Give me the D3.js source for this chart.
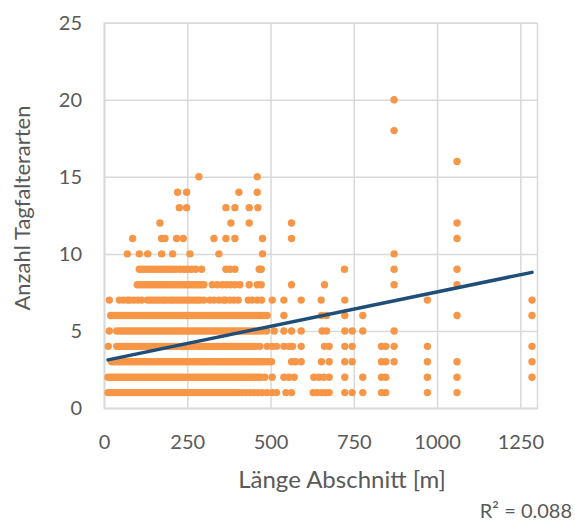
<!DOCTYPE html>
<html>
<head>
<meta charset="utf-8">
<script src="https://cdn.jsdelivr.net/npm/d3@7/dist/d3.min.js"></script>
<style>
  html, body { margin: 0; padding: 0; background: #ffffff; }
  svg { display: block; }
  text { font-family: Lato, "Open Sans", sans-serif; fill: #595959; }
</style>
</head>
<body>
<svg id="chart" width="575" height="522"></svg>
<script>
// Lengths (x, metres) of sections, grouped by number of butterfly species (y)
const len_sp1 = [12,19,27,36,43,51,60,68,75,84,92,99,108,116,123,132,140,147,156,164,171,180,188,195,204,212,219,228,236,243,252,260,267,276,284,291,300,308,315,324,332,339,348,356,363,372,380,387,396,404,415,427,438,450,462,475,490,505,518,546,563,628,640,653,665,676,723,745,777,833,846,971,1060];
const len_sp2 = [12,21,29,37,46,54,62,71,79,87,96,104,112,121,129,137,146,154,162,171,179,187,196,204,212,221,229,237,246,254,262,271,279,287,296,304,312,321,329,337,346,354,362,371,379,387,396,404,412,421,429,437,446,454,462,471,483,505,540,555,571,630,645,660,676,723,777,833,846,971,1060,1285];
const len_sp3 = [23,31,40,48,56,65,73,81,90,98,106,115,123,131,140,148,156,165,173,181,190,198,206,215,223,231,240,248,256,265,273,281,290,298,306,315,323,331,340,348,356,365,373,381,390,398,406,415,423,431,440,448,456,465,473,481,492,503,563,575,592,653,676,723,745,833,846,871,971,1060,1285];
const len_sp4 = [13,38,46,55,63,71,80,88,96,105,113,121,130,138,146,155,163,171,180,188,196,205,213,221,230,238,246,255,263,271,280,288,296,305,313,321,330,338,346,355,363,371,380,388,396,405,413,421,430,438,446,455,468,490,505,518,540,555,566,592,662,676,723,745,833,846,871,971,1285];
const len_sp5 = [16,38,47,55,63,72,80,88,97,105,113,122,130,138,147,155,163,172,180,188,197,205,213,222,230,238,247,255,263,272,280,288,297,305,313,322,330,338,347,355,363,372,380,388,397,405,413,422,430,438,447,455,463,474,488,511,540,563,592,655,668,723,745,777,871];
const len_sp6 = [20,28,37,45,53,62,70,78,87,95,103,112,120,128,137,145,153,162,170,178,187,195,203,212,220,228,237,245,253,262,270,278,287,295,303,312,320,328,337,345,353,362,370,378,387,395,403,412,420,428,437,445,453,462,470,480,490,540,653,668,723,777,1060,1285];
const len_sp7 = [16,46,58,70,78,90,102,113,130,138,147,155,163,172,180,188,197,205,213,222,230,238,247,255,263,272,280,288,300,318,330,345,358,365,378,390,403,433,445,460,473,505,540,592,652,723,971,1285];
const len_sp8 = [100,108,117,125,133,142,150,158,167,175,183,192,200,208,217,225,233,242,250,258,267,275,283,292,300,325,340,355,368,380,393,408,436,460,472,563,662,871,1060];
const len_sp9 = [106,115,125,135,145,155,165,175,185,195,205,215,228,240,250,262,275,293,366,378,393,466,472,722,871,1060];
const len_sp10 = [70,106,131,173,206,258,345,476,871];
const len_sp11 = [86,173,183,218,238,330,366,393,476,563,1060];
const len_sp12 = [168,381,436,563,1060];
const len_sp13 = [226,248,366,393,436,462];
const len_sp14 = [221,248,405,460];
const len_sp15 = [285,460];
const len_sp16 = [1060];
const len_sp18 = [871];
const len_sp20 = [871];

// Linear trendline
const trendSlope = 0.00446;
const trendIntercept = 3.07;
const rSquared = "R² = 0.088";

const xTicks = [0, 250, 500, 750, 1000, 1250];
const yTicks = [0, 5, 10, 15, 20, 25];
const xTitle = "Länge Abschnitt [m]";
const yTitle = "Anzahl Tagfalterarten";

const groups = [
  [1, len_sp1], [2, len_sp2], [3, len_sp3], [4, len_sp4], [5, len_sp5],
  [6, len_sp6], [7, len_sp7], [8, len_sp8], [9, len_sp9], [10, len_sp10],
  [11, len_sp11], [12, len_sp12], [13, len_sp13], [14, len_sp14], [15, len_sp15],
  [16, len_sp16], [18, len_sp18], [20, len_sp20]
];
const points = [];
groups.forEach(([sp, arr]) => arr.forEach(len => points.push({ x: len, y: sp })));

const svg = d3.select("#chart");
const mLeft = 104, mRight = 537, mTop = 22.7, mBottom = 408;

const x = d3.scaleLinear().domain([0, 1300]).range([mLeft, mRight]);
const y = d3.scaleLinear().domain([0, 25]).range([mBottom, mTop]);

const gridColor = "#D9D9D9";

// vertical gridlines + x axis
const gx = svg.append("g")
  .attr("transform", `translate(0,${mBottom})`)
  .call(d3.axisBottom(x).tickValues(xTicks).tickSize(-(mBottom - mTop)).tickFormat(d3.format("d")));
gx.select(".domain").attr("stroke", gridColor).attr("stroke-width", 1.5);
gx.selectAll(".tick line").attr("stroke", gridColor).attr("stroke-width", 1.5);
gx.selectAll(".tick text").attr("font-size", 20).attr("fill", "#595959")
  .attr("y", 41).attr("dy", 0).style("font-family", "Lato, sans-serif");

// horizontal gridlines + y axis
const gy = svg.append("g")
  .attr("transform", `translate(${mLeft},0)`)
  .call(d3.axisLeft(y).tickValues(yTicks).tickSize(-(mRight - mLeft)).tickFormat(d3.format("d")));
gy.select(".domain").attr("stroke", gridColor).attr("stroke-width", 1.5);
gy.selectAll(".tick line").attr("stroke", gridColor).attr("stroke-width", 1.5);
gy.selectAll(".tick text").attr("font-size", 20).attr("fill", "#595959")
  .attr("x", -22).style("font-family", "Lato, sans-serif");

// points
svg.append("g").selectAll("circle")
  .data(points)
  .join("circle")
  .attr("cx", d => x(d.x))
  .attr("cy", d => y(d.y))
  .attr("r", 3.7)
  .attr("fill", "#F79646");

// trendline
const xMin = d3.min(points, d => d.x), xMax = d3.max(points, d => d.x);
svg.append("line")
  .attr("x1", x(xMin)).attr("y1", y(trendIntercept + trendSlope * xMin))
  .attr("x2", x(xMax)).attr("y2", y(trendIntercept + trendSlope * xMax))
  .attr("stroke", "#1F4E79")
  .attr("stroke-width", 3.5)
  .attr("stroke-linecap", "round");

// axis titles
svg.append("text")
  .attr("x", 342).attr("y", 488)
  .attr("text-anchor", "middle")
  .attr("font-size", 24)
  .text(xTitle);

svg.append("text")
  .attr("transform", "translate(30,208) rotate(-90)")
  .attr("text-anchor", "middle")
  .attr("font-size", 22)
  .text(yTitle);

svg.append("text")
  .attr("x", 572).attr("y", 518)
  .attr("text-anchor", "end")
  .attr("font-size", 20)
  .text(rSquared);
</script>
</body>
</html>
